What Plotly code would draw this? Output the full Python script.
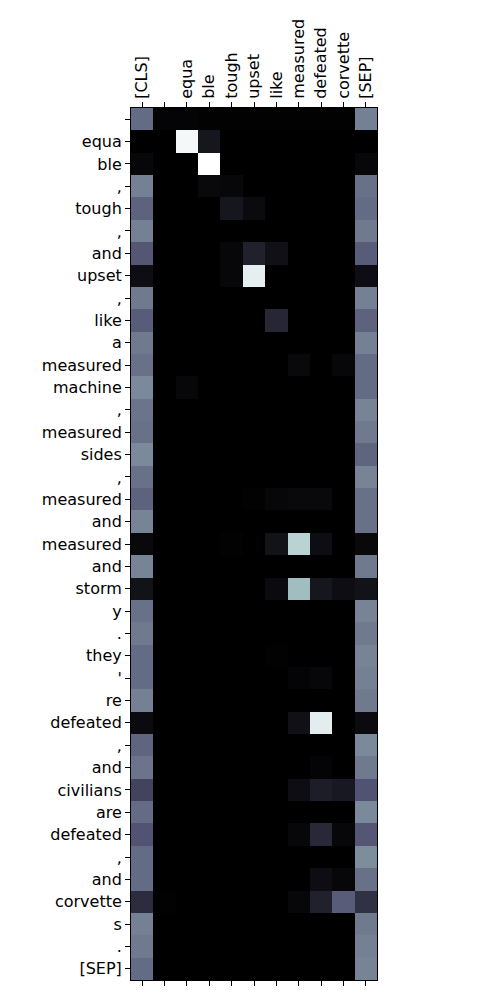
import plotly.graph_objects as go

x_labels = ["[CLS]", "", "equa", "ble", "tough", "upset", "like", "measured", "defeated", "corvette", "[SEP]"]
y_labels = ["", "equa", "ble", ",", "tough", ",", "and", "upset", ",", "like", "a", "measured", "machine",
            ",", "measured", "sides", ",", "measured", "and", "measured", "and", "storm", "y", ".", "they",
            "'", "re", "defeated", ",", "and", "civilians", "are", "defeated", ",", "and", "corvette", "s", ".", "[SEP]"]

# attention weights, rows = y tokens, cols = x tokens
attn = [
    [0.45, 0.02, 0.02, 0.01, 0.01, 0.01, 0.01, 0.01, 0.01, 0.01, 0.52],
    [0.00, 0.00, 0.97, 0.10, 0.00, 0.00, 0.00, 0.00, 0.00, 0.00, 0.00],
    [0.03, 0.00, 0.00, 1.00, 0.00, 0.00, 0.00, 0.00, 0.00, 0.00, 0.03],
    [0.52, 0.00, 0.00, 0.04, 0.03, 0.00, 0.00, 0.00, 0.00, 0.00, 0.47],
    [0.42, 0.00, 0.00, 0.00, 0.10, 0.05, 0.00, 0.00, 0.00, 0.00, 0.45],
    [0.52, 0.00, 0.00, 0.00, 0.00, 0.00, 0.00, 0.00, 0.00, 0.00, 0.50],
    [0.38, 0.00, 0.00, 0.00, 0.03, 0.15, 0.07, 0.00, 0.00, 0.00, 0.40],
    [0.06, 0.00, 0.00, 0.00, 0.03, 0.93, 0.00, 0.00, 0.00, 0.00, 0.06],
    [0.50, 0.00, 0.00, 0.00, 0.00, 0.00, 0.00, 0.00, 0.00, 0.00, 0.52],
    [0.40, 0.00, 0.00, 0.00, 0.00, 0.00, 0.17, 0.00, 0.00, 0.00, 0.42],
    [0.50, 0.00, 0.00, 0.00, 0.00, 0.00, 0.00, 0.00, 0.00, 0.00, 0.52],
    [0.47, 0.00, 0.00, 0.00, 0.00, 0.00, 0.00, 0.04, 0.00, 0.03, 0.45],
    [0.55, 0.00, 0.03, 0.00, 0.00, 0.00, 0.00, 0.00, 0.00, 0.00, 0.45],
    [0.48, 0.00, 0.00, 0.00, 0.00, 0.00, 0.00, 0.00, 0.00, 0.00, 0.53],
    [0.47, 0.00, 0.00, 0.00, 0.00, 0.00, 0.00, 0.00, 0.00, 0.00, 0.50],
    [0.55, 0.00, 0.00, 0.00, 0.00, 0.00, 0.00, 0.00, 0.00, 0.00, 0.43],
    [0.47, 0.00, 0.00, 0.00, 0.00, 0.00, 0.00, 0.00, 0.00, 0.00, 0.53],
    [0.42, 0.00, 0.00, 0.00, 0.00, 0.01, 0.03, 0.04, 0.04, 0.00, 0.47],
    [0.53, 0.00, 0.00, 0.00, 0.00, 0.00, 0.00, 0.00, 0.00, 0.00, 0.47],
    [0.04, 0.00, 0.00, 0.00, 0.01, 0.00, 0.08, 0.80, 0.06, 0.00, 0.04],
    [0.53, 0.00, 0.00, 0.00, 0.00, 0.00, 0.00, 0.00, 0.00, 0.00, 0.50],
    [0.08, 0.00, 0.00, 0.00, 0.00, 0.00, 0.05, 0.72, 0.10, 0.06, 0.08],
    [0.47, 0.00, 0.00, 0.00, 0.00, 0.00, 0.00, 0.00, 0.00, 0.00, 0.53],
    [0.50, 0.00, 0.00, 0.00, 0.00, 0.00, 0.00, 0.00, 0.00, 0.00, 0.50],
    [0.45, 0.00, 0.00, 0.00, 0.00, 0.00, 0.01, 0.00, 0.00, 0.00, 0.53],
    [0.45, 0.00, 0.00, 0.00, 0.00, 0.00, 0.00, 0.02, 0.03, 0.00, 0.52],
    [0.52, 0.00, 0.00, 0.00, 0.00, 0.00, 0.00, 0.00, 0.00, 0.00, 0.50],
    [0.05, 0.00, 0.00, 0.00, 0.00, 0.00, 0.00, 0.07, 0.92, 0.00, 0.05],
    [0.43, 0.00, 0.00, 0.00, 0.00, 0.00, 0.00, 0.00, 0.00, 0.00, 0.55],
    [0.48, 0.00, 0.00, 0.00, 0.00, 0.00, 0.00, 0.00, 0.02, 0.00, 0.50],
    [0.30, 0.00, 0.00, 0.00, 0.00, 0.00, 0.00, 0.06, 0.13, 0.11, 0.37],
    [0.45, 0.00, 0.00, 0.00, 0.00, 0.00, 0.00, 0.00, 0.00, 0.00, 0.55],
    [0.37, 0.00, 0.00, 0.00, 0.00, 0.00, 0.00, 0.03, 0.18, 0.03, 0.38],
    [0.45, 0.00, 0.00, 0.00, 0.00, 0.00, 0.00, 0.00, 0.00, 0.00, 0.56],
    [0.45, 0.00, 0.00, 0.00, 0.00, 0.00, 0.00, 0.00, 0.06, 0.03, 0.47],
    [0.20, 0.01, 0.00, 0.00, 0.00, 0.00, 0.00, 0.03, 0.15, 0.40, 0.22],
    [0.52, 0.00, 0.00, 0.00, 0.00, 0.00, 0.00, 0.00, 0.00, 0.00, 0.50],
    [0.50, 0.00, 0.00, 0.00, 0.00, 0.00, 0.00, 0.00, 0.00, 0.00, 0.52],
    [0.45, 0.00, 0.00, 0.00, 0.00, 0.00, 0.00, 0.00, 0.00, 0.00, 0.53],
]

# matplotlib "bone" colormap
bone = [
    [0.0, "rgb(0,0,0)"],
    [0.365079, "rgb(81,81,113)"],
    [0.746032, "rgb(166,198,198)"],
    [1.0, "rgb(255,255,255)"],
]

xs = list(range(len(x_labels)))
ys = list(range(len(y_labels)))

fig = go.Figure()
fig.add_trace(go.Heatmap(z=attn, x=xs, y=ys, colorscale=bone, zmin=0, zmax=1,
                         showscale=False, xaxis="x", yaxis="y"))
fig.add_trace(go.Scatter(x=[0], y=[0], xaxis="x2", yaxis="y", mode="markers",
                         marker=dict(opacity=0), showlegend=False, hoverinfo="skip"))

font = dict(family="DejaVu Sans", size=16, color="black")
fig.update_layout(
    width=500, height=1000,
    margin=dict(l=131, r=123, t=108, b=20),
    paper_bgcolor="white", plot_bgcolor="white",
    font=font,
    showlegend=False,
    xaxis=dict(side="top", range=[-0.5, len(x_labels) - 0.5], tickvals=xs, ticktext=x_labels,
               tickangle=-90, ticks="outside", ticklen=5, tickcolor="black", tickwidth=1,
               showgrid=False, zeroline=False, showline=True, linecolor="black", linewidth=1,
               mirror=True, tickfont=font, automargin=False),
    xaxis2=dict(side="bottom", overlaying="x", range=[-0.5, len(x_labels) - 0.5], tickvals=xs,
                showticklabels=False, ticks="outside", ticklen=5, tickcolor="black", tickwidth=1,
                showgrid=False, zeroline=False, showline=False),
    yaxis=dict(range=[len(y_labels) - 0.5, -0.5], tickvals=ys, ticktext=y_labels,
               ticks="outside", ticklen=5, tickcolor="black", tickwidth=1,
               showgrid=False, zeroline=False, showline=True, linecolor="black", linewidth=1,
               mirror=True, tickfont=font, automargin=False),
)

fig.write_html("out.html")
